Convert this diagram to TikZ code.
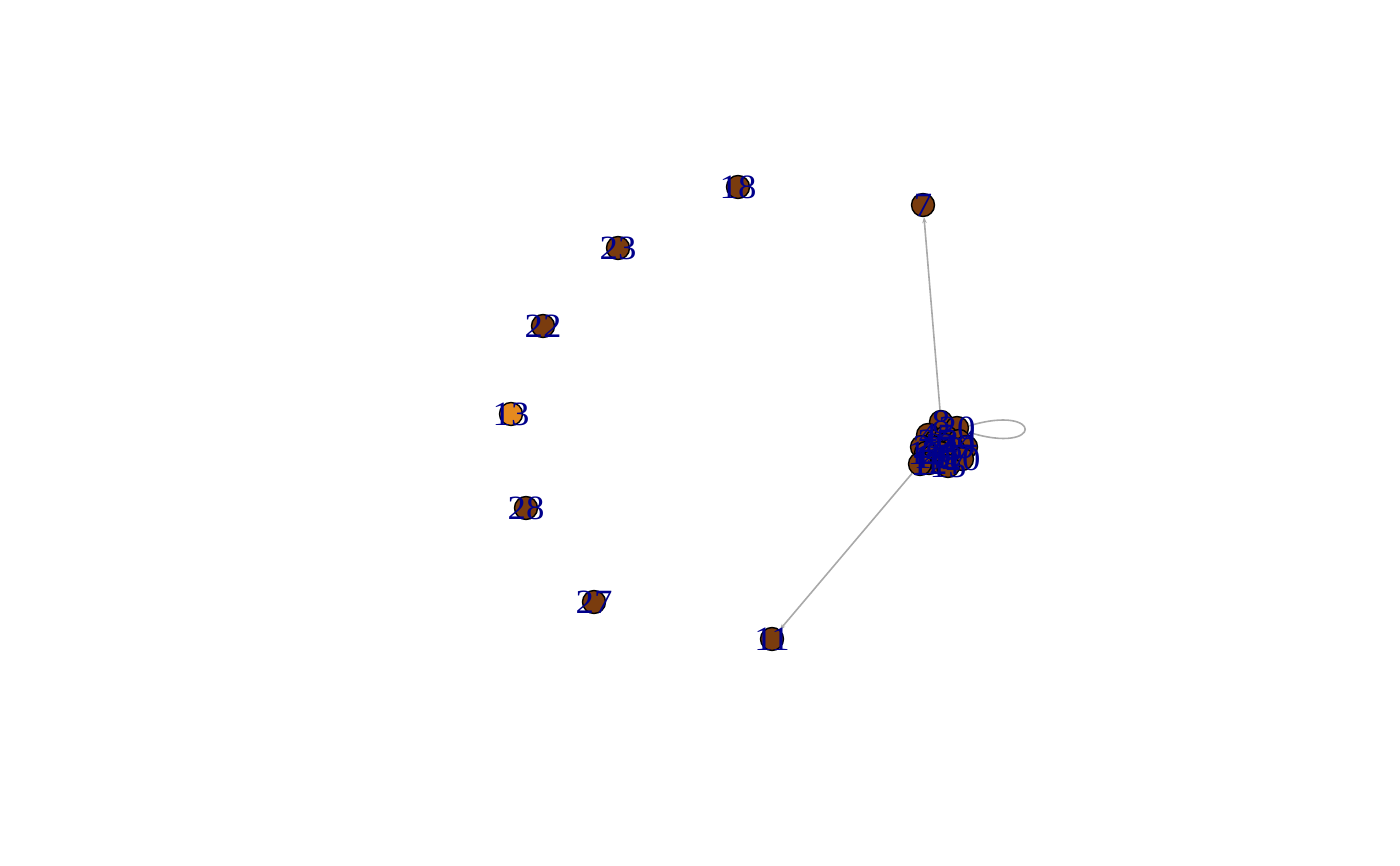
\documentclass[tikz,border=0pt]{standalone}
\usepackage{fontspec}
\setmainfont{Liberation Serif}
\usetikzlibrary{arrows.meta}
\definecolor{vbrown}{HTML}{7A3C0E}
\definecolor{vorange}{HTML}{E58A1F}
\definecolor{lblue}{HTML}{00008B}
\definecolor{egray}{HTML}{A9A9A9}
\tikzset{
  vert/.style={circle,draw=black,fill=vbrown,minimum size=23pt,inner sep=0pt,line width=1.4pt},
  vorg/.style={vert,fill=vorange},
  lab/.style={text=lblue,inner sep=0pt,font=\fontsize{34}{34}\selectfont},
  edge/.style={draw=egray,line width=1.6pt},
  arr/.style={edge,-{Stealth[length=6pt,width=4.5pt]}}
}
\newcommand{\lb}[1]{\scalebox{1.08}[1]{#1}}
\begin{document}
\begin{tikzpicture}[x=1pt,y=-1pt]
\useasboundingbox (0,0) rectangle (1400,866);
% isolated / outer vertices
\node[vert] (v18) at (738,187) {};
\node[vert] (v23) at (618,248) {};
\node[vert] (v22) at (543,326) {};
\node[vorg] (v13) at (511,414) {};
\node[vert] (v28) at (526,508) {};
\node[vert] (v27) at (594,602) {};
\node[vert] (v11) at (772,639) {};
\node[vert] (v7) at (923,205) {};
% cluster vertices
\node[vert] (v8) at (941,422) {};
\node[vert] (v20) at (957,428) {};
\node[vert] (v4) at (928,435) {};
\node[vert] (v25) at (936,441) {};
\node[vert] (v5) at (946,437) {};
\node[vert] (v24) at (959,441) {};
\node[vert] (v21) at (944,445) {};
\node[vert] (v9) at (966,447) {};
\node[vert] (v2) at (922,447) {};
\node[vert] (v3) at (934,448) {};
\node[vert] (v6) at (953,449) {};
\node[vert] (v19) at (926,453) {};
\node[vert] (v26) at (940,453) {};
\node[vert] (v17) at (951,456) {};
\node[vert] (v16) at (932,457) {};
\node[vert] (v10) at (962,459) {};
\node[vert] (v12) at (929,463) {};
\node[vert] (v14) at (942,463) {};
\node[vert] (v1) at (920,464) {};
\node[vert] (v15) at (948,466) {};
% edges
\draw[arr] (v8) -- (v7);
\draw[arr] (v1) -- (v11);
\draw[edge] (v20.10) .. controls (1044,403) and (1044,456) .. (v20.-20);
% labels
\node[lab] (l18) at (v18) {\lb{18}};
\node[lab] (l23) at (v23) {\lb{23}};
\node[lab] (l22) at (v22) {\lb{22}};
\node[lab] (l13) at (v13) {\lb{13}};
\node[lab] (l28) at (v28) {\lb{28}};
\node[lab] (l27) at (v27) {\lb{27}};
\node[lab] (l11) at (v11) {\lb{11}};
\node[lab] (l7) at (v7) {\lb{7}};
\node[lab] (l8) at (v8) {\lb{8}};
\node[lab] (l20) at (v20) {\lb{20}};
\node[lab] (l4) at (v4) {\lb{4}};
\node[lab] (l25) at (v25) {\lb{25}};
\node[lab] (l5) at (v5) {\lb{5}};
\node[lab] (l24) at (v24) {\lb{24}};
\node[lab] (l21) at (v21) {\lb{21}};
\node[lab] (l9) at (v9) {\lb{9}};
\node[lab] (l2) at (v2) {\lb{2}};
\node[lab] (l3) at (v3) {\lb{3}};
\node[lab] (l6) at (v6) {\lb{6}};
\node[lab] (l19) at (v19) {\lb{19}};
\node[lab] (l26) at (v26) {\lb{26}};
\node[lab] (l17) at (v17) {\lb{17}};
\node[lab] (l16) at (v16) {\lb{16}};
\node[lab] (l10) at (v10) {\lb{10}};
\node[lab] (l12) at (v12) {\lb{12}};
\node[lab] (l14) at (v14) {\lb{14}};
\node[lab] (l1) at (v1) {\lb{1}};
\node[lab] (l15) at (v15) {\lb{15}};
\end{tikzpicture}
\end{document}
